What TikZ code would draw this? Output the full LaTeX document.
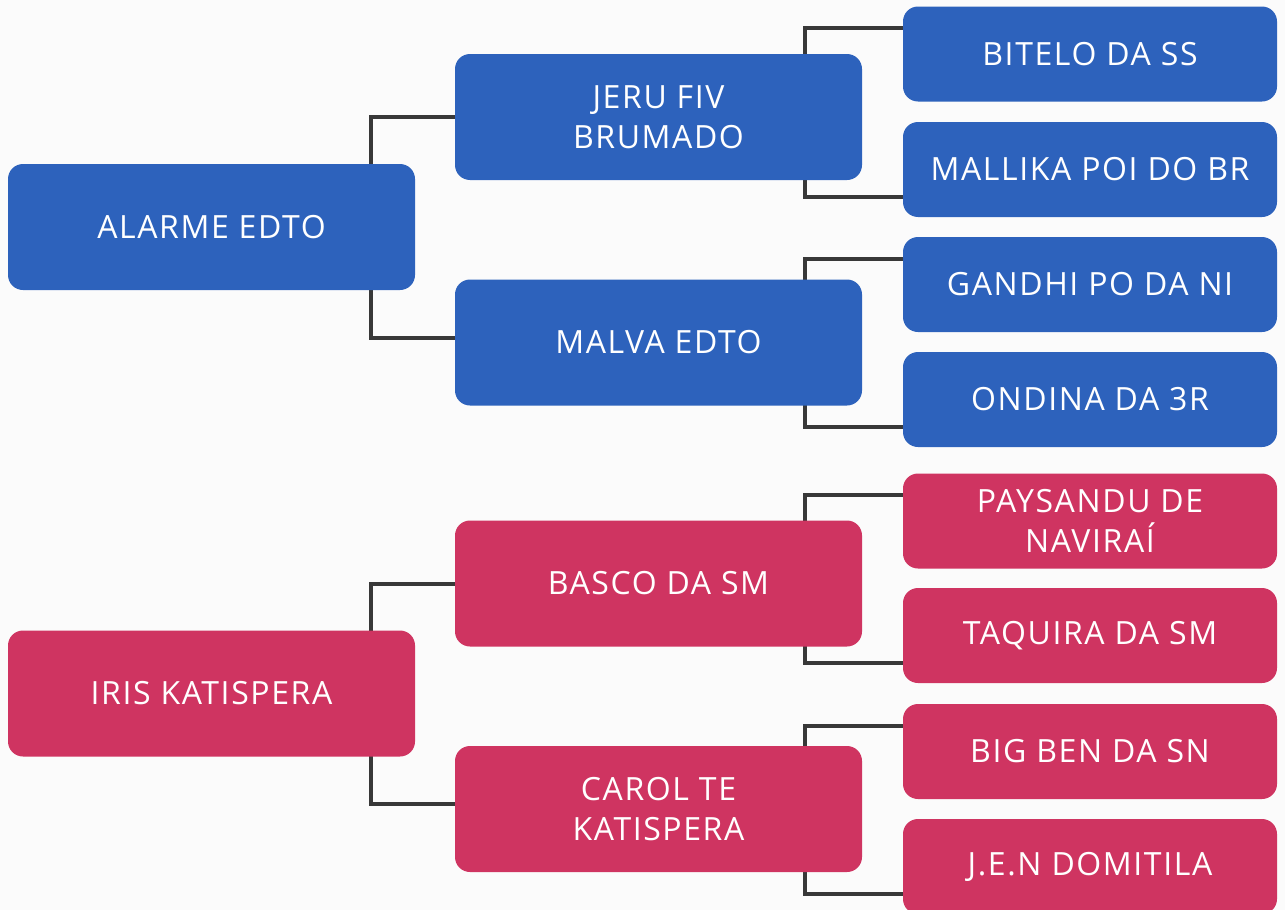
\documentclass[tikz,border=0pt]{standalone}
\usepackage{fontspec}
\setmainfont{Open Sans}[LetterSpace=5]
\pgfdeclarelayer{bg}
\pgfdeclarelayer{lines}
\pgfsetlayers{bg,lines,main}
\definecolor{bblue}{HTML}{2D62BC}
\definecolor{rred}{HTML}{CF3461}
\definecolor{lline}{HTML}{383838}
\definecolor{bgc}{HTML}{FBFBFB}
\tikzset{
  box/.style={rectangle, rounded corners=15pt, text=white, align=center,
    font=\fontsize{32}{40}\selectfont, inner sep=0pt},
  bigbox/.style={box, minimum width=407pt, minimum height=126pt},
  leafbox/.style={box, minimum width=374pt, minimum height=95pt},
  blue/.style={fill=bblue},
  red/.style={fill=rred},
  conn/.style={draw=lline, line width=4pt, line join=miter}
}
\begin{document}
\begin{tikzpicture}[x=1pt,y=-1pt]
\begin{pgfonlayer}{bg}
\fill[bgc] (0,0) rectangle (1285,910);
\end{pgfonlayer}
\useasboundingbox (0,0) rectangle (1285,910);
% blue tree
\node[bigbox,blue] (root1) at (211.5,227) {ALARME EDTO};
\node[bigbox,blue] (mid1) at (658.5,117) {JERU FIV\\BRUMADO};
\node[bigbox,blue] (mid2) at (658.5,342.5) {MALVA EDTO};
\node[leafbox,blue] (l1) at (1090,54) {BITELO DA SS};
\node[leafbox,blue] (l2) at (1090,169.5) {MALLIKA POI DO BR};
\node[leafbox,blue] (l3) at (1090,284.5) {GANDHI PO DA NI};
\node[leafbox,blue] (l4) at (1090,399.5) {ONDINA DA 3R};
% red tree
\node[bigbox,red] (root2) at (211.5,693.5) {IRIS KATISPERA};
\node[bigbox,red] (mid3) at (658.5,583.5) {BASCO DA SM};
\node[bigbox,red] (mid4) at (658.5,809) {CAROL TE\\KATISPERA};
\node[leafbox,red] (l5) at (1090,521) {PAYSANDU DE\\NAVIRAÍ};
\node[leafbox,red] (l6) at (1090,635.5) {TAQUIRA DA SM};
\node[leafbox,red] (l7) at (1090,751.5) {BIG BEN DA SN};
\node[leafbox,red] (l8) at (1090,866.5) {J.E.N DOMITILA};
\begin{pgfonlayer}{lines}
\draw[conn] (mid1.west) -- ++(-84,0) |- ([yshift=5pt]mid2.west);
\draw[conn] (mid3.west) -- ++(-84,0) |- ([yshift=5pt]mid4.west);
\draw[conn] ([yshift=-22pt]l1.north west) -- ++(-98,0) |- ([yshift=20pt]l2.south west);
\draw[conn] ([yshift=-22pt]l3.north west) -- ++(-98,0) |- ([yshift=20pt]l4.south west);
\draw[conn] ([yshift=-22pt]l5.north west) -- ++(-98,0) |- ([yshift=20pt]l6.south west);
\draw[conn] ([yshift=-22pt]l7.north west) -- ++(-98,0) |- ([yshift=20pt]l8.south west);
\end{pgfonlayer}
\end{tikzpicture}
\end{document}
